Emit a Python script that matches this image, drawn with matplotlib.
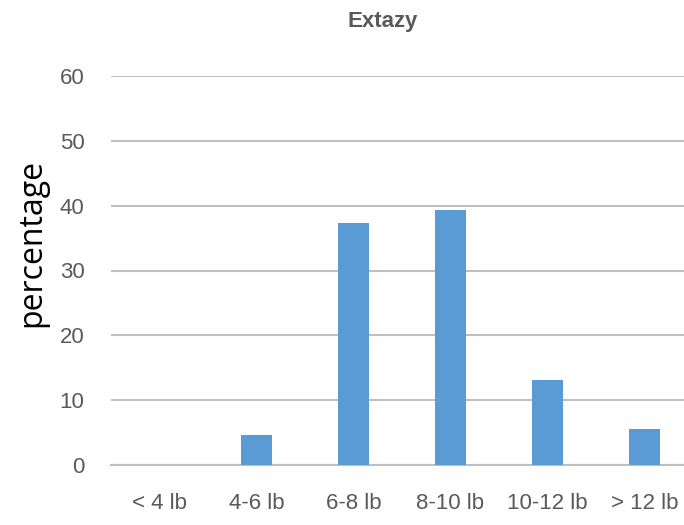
import matplotlib
matplotlib.use("Agg")
import matplotlib.pyplot as plt

# datos
categorias = ["< 4 lb", "4-6 lb", "6-8 lb", "8-10 lb", "10-12 lb", "> 12 lb"]
porcentajes = [0, 4.7, 37.3, 39.4, 13.1, 5.5]
yticks = [0, 10, 20, 30, 40, 50, 60]

plt.rcParams['font.family'] = ['Liberation Sans', 'DejaVu Sans']

fig = plt.figure(figsize=(6.84, 5.25), dpi=100)
ax = fig.add_axes([111/684, 60/525, (693-111)/684, (465-76)/525])

x = range(len(categorias))
ax.bar(x, porcentajes, width=0.32, color="#5B9BD5", zorder=3)

ax.set_ylim(0, 60)
ax.set_xlim(-0.5, len(categorias) - 0.5)
ax.set_yticks(yticks)
ax.set_xticks(list(x))
ax.set_xticklabels(categorias)
ax.yaxis.grid(True, color="#BFBFBF", linewidth=1.5, zorder=0)
ax.tick_params(axis="both", length=0, labelsize=16, colors="#595959")
ax.tick_params(axis="y", pad=19)
ax.tick_params(axis="x", pad=20)
for s in ["top", "right", "left"]:
    ax.spines[s].set_visible(False)
ax.spines["bottom"].set_color("#BFBFBF")
ax.spines["bottom"].set_linewidth(1.5)

fig.text(383/684, 1 - 22/525, "Extazy", ha="center", va="center",
         fontsize=16, fontweight="bold", color="#595959")
fig.text(32/684, 1 - 243/525, "percentage", ha="center", va="center",
         rotation=90, fontsize=23, color="black", family=["Open Sans", "DejaVu Sans"])

fig.savefig("out.png", dpi=100)
